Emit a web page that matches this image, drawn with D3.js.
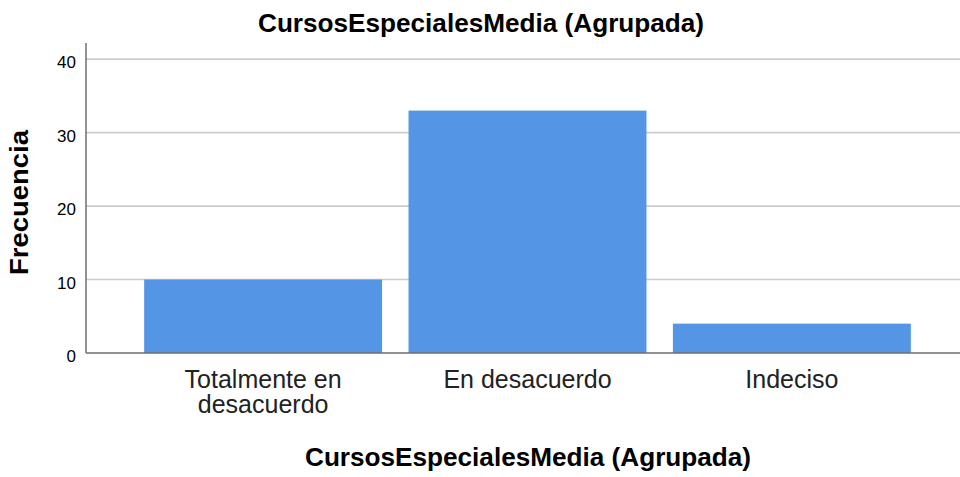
<!DOCTYPE html>
<html>
<head>
<meta charset="utf-8">
<script src="https://cdn.jsdelivr.net/npm/d3@7"></script>
<style>
	body { margin: 0; background: #fff; }
	svg text { font-family: "Liberation Sans", Arial, sans-serif; fill: #000; }
</style>
</head>
<body>
<div id="chart"></div>
<script>
const categories = [['Totalmente en', 'desacuerdo'], ['En desacuerdo'], ['Indeciso']]
const frequencies = [10, 33, 4]
const y_ticks = [0, 10, 20, 30, 40]
const title = 'CursosEspecialesMedia (Agrupada)'
const x_title = 'CursosEspecialesMedia (Agrupada)'
const y_title = 'Frecuencia'

const w = 960, h = 477
const $svg = d3.select('#chart').append('svg')
	.attr('width', w)
	.attr('height', h)

const plot_left = 86, plot_top = 43, plot_bottom = 353

const x = d3.scaleBand()
	.domain(categories.map(d => d.join(' ')))
	.range([plot_left, 969])
	.paddingInner(0.1)
	.paddingOuter(0.22)

const y = d3.scaleLinear()
	.domain([0, 42.2])
	.range([plot_bottom, plot_top])

// Gridlines
$svg.append('g')
	.selectAll('line')
	.data(y_ticks.filter(t => t > 0))
	.enter()
	.append('line')
	.attr('x1', plot_left)
	.attr('x2', w)
	.attr('y1', d => y(d))
	.attr('y2', d => y(d))
	.attr('stroke', '#cccccc')
	.attr('stroke-width', 1.6)

// Bars
$svg.append('g')
	.selectAll('rect')
	.data(frequencies)
	.enter()
	.append('rect')
	.attr('x', (d, i) => x(categories[i].join(' ')))
	.attr('y', d => y(d))
	.attr('width', x.bandwidth())
	.attr('height', d => y(0) - y(d))
	.attr('fill', '#5595e5')

// Axis lines
$svg.append('line')
	.attr('x1', plot_left).attr('x2', plot_left)
	.attr('y1', plot_top).attr('y2', plot_bottom)
	.attr('stroke', '#6e6e6e').attr('stroke-width', 1.5)
$svg.append('line')
	.attr('x1', plot_left).attr('x2', w)
	.attr('y1', plot_bottom).attr('y2', plot_bottom)
	.attr('stroke', '#6e6e6e').attr('stroke-width', 1.5)

// Y tick labels
$svg.append('g')
	.selectAll('text')
	.data(y_ticks)
	.enter()
	.append('text')
	.attr('x', 76)
	.attr('y', d => y(d) + 9)
	.attr('text-anchor', 'end')
	.style('font-size', '17px')
	.text(d => d)

// X tick labels
const $xl = $svg.append('g')
	.selectAll('text')
	.data(categories)
	.enter()
	.append('text')
	.attr('x', d => x(d.join(' ')) + x.bandwidth() / 2)
	.attr('y', 388)
	.attr('text-anchor', 'middle')
	.style('font-size', '25px')
	.style('fill', '#222')

$xl.selectAll('tspan')
	.data(d => d)
	.enter()
	.append('tspan')
	.attr('x', function() { return d3.select(this.parentNode).attr('x') })
	.attr('dy', (d, i) => i ? 25 : 0)
	.text(d => d)

// Titles
function bold_text(txt, len) {
	return $svg.append('text')
		.attr('text-anchor', 'middle')
		.attr('textLength', len)
		.attr('lengthAdjust', 'spacingAndGlyphs')
		.style('font-size', '25px')
		.style('font-weight', 'bold')
		.text(txt)
}

bold_text(title, 446)
	.attr('x', 481)
	.attr('y', 32)

bold_text(x_title, 446)
	.attr('x', 528)
	.attr('y', 466)

bold_text(y_title, 145)
	.attr('transform', `translate(27.5, 202.5) rotate(-90)`)
</script>
</body>
</html>
